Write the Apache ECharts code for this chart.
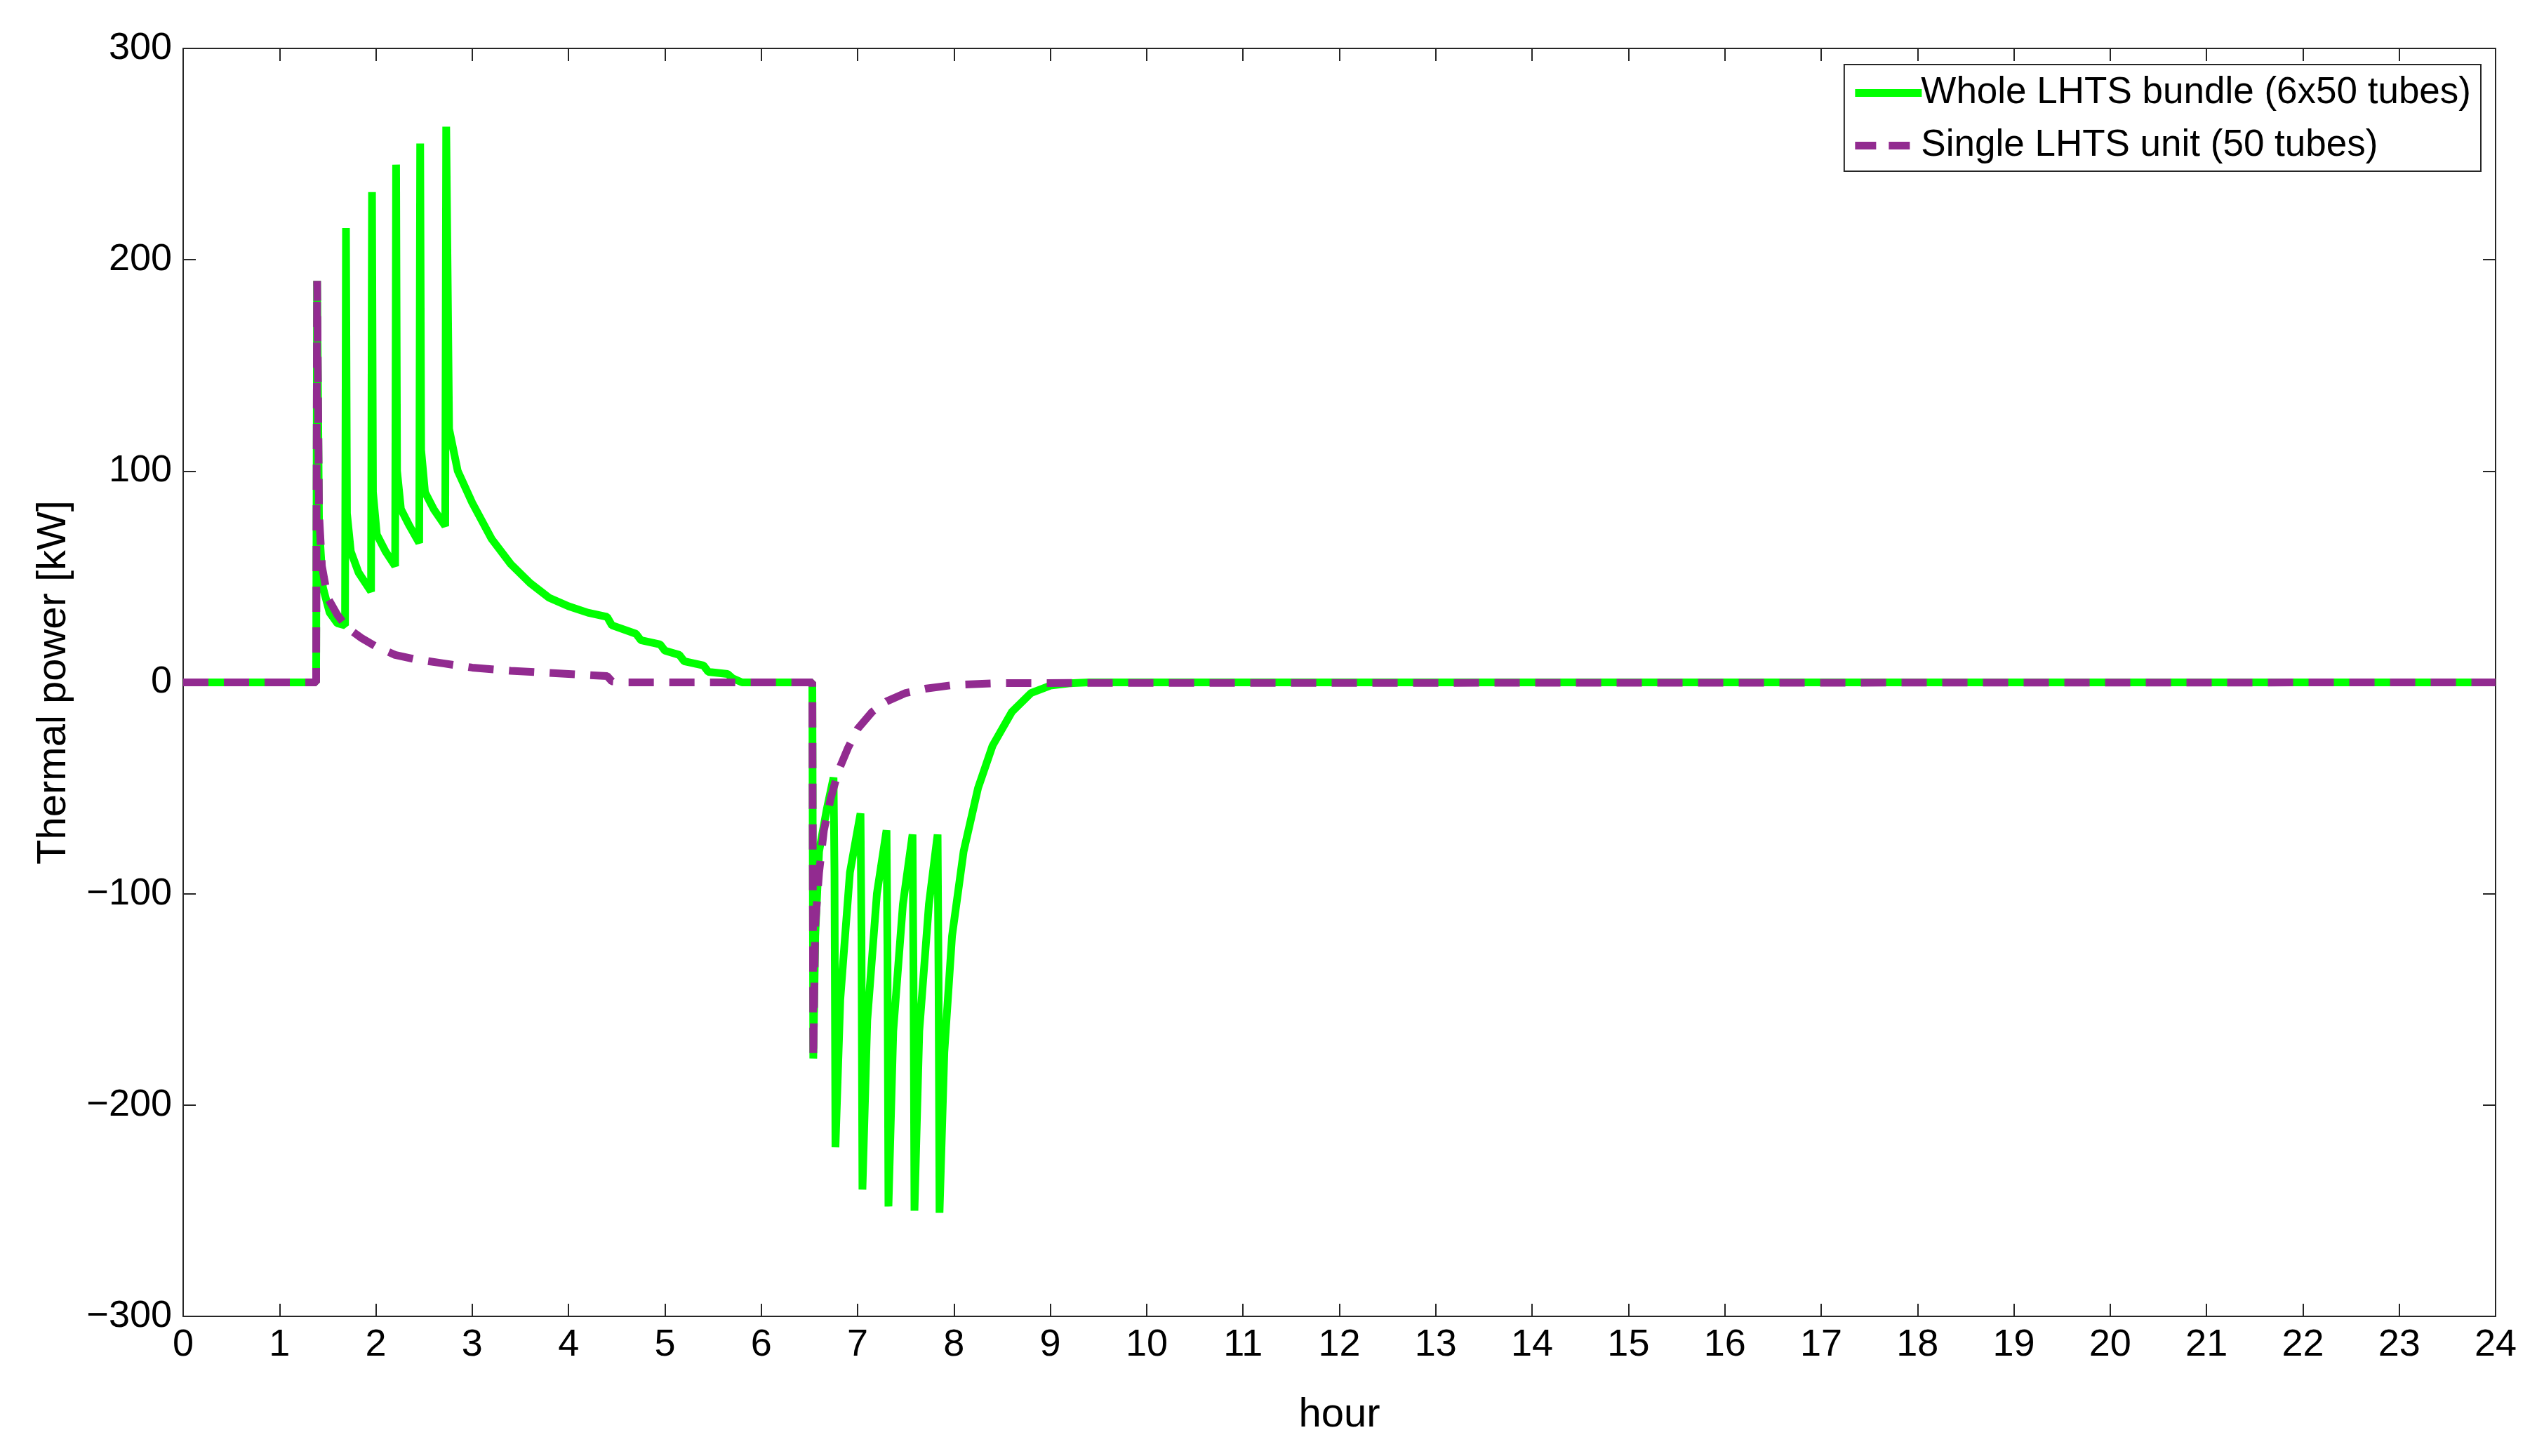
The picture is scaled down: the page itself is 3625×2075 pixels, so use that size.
<!DOCTYPE html>
<html>
<head>
<meta charset="utf-8">
<script src="https://cdn.jsdelivr.net/npm/echarts@6/dist/echarts.min.js"></script>
<style>html,body{margin:0;background:#fff}#chart{width:3625px;height:2075px}</style>
</head>
<body>
<div id="chart"></div>
<script>
// Whole LHTS bundle (6x50 tubes)
const bundleHours = [0, 1.38, 1.39, 1.41, 1.45, 1.52, 1.6, 1.68, 1.69, 1.7, 1.74, 1.82, 1.95, 1.96, 1.97, 2.01, 2.1, 2.2, 2.21, 2.22, 2.26, 2.35, 2.45, 2.46, 2.47, 2.51, 2.6, 2.72, 2.73, 2.76, 2.85, 3.0, 3.2, 3.4, 3.6, 3.8, 4.0, 4.2, 4.4, 4.45, 4.7, 4.75, 4.95, 5.0, 5.15, 5.2, 5.4, 5.45, 5.65, 5.7, 5.8, 6.53, 6.54, 6.56, 6.6, 6.68, 6.75, 6.76, 6.77, 6.82, 6.92, 7.03, 7.04, 7.05, 7.1, 7.2, 7.3, 7.31, 7.32, 7.37, 7.47, 7.57, 7.58, 7.59, 7.64, 7.74, 7.83, 7.84, 7.85, 7.9, 7.98, 8.1, 8.25, 8.4, 8.6, 8.8, 9.0, 9.2, 9.4, 24];
const bundlePower = [0, 0, 190, 75, 45, 33, 28, 27, 215, 80, 62, 52, 43, 232, 90, 70, 62, 55, 245, 100, 82, 74, 66, 255, 110, 90, 82, 74, 263, 120, 100, 85, 68, 56, 47, 40, 36, 33, 31, 27, 23, 20, 18, 15, 13, 10, 8, 5, 4, 2, 0, 0, -178, -120, -80, -60, -45, -90, -220, -150, -90, -62, -120, -240, -160, -100, -70, -130, -248, -165, -105, -72, -140, -250, -165, -105, -72, -140, -251, -175, -120, -80, -50, -30, -14, -5, -1.5, -0.4, 0, 0];

// Single LHTS unit (50 tubes)
const unitHours = [0, 1.38, 1.39, 1.41, 1.44, 1.5, 1.6, 1.7, 1.85, 2.0, 2.2, 2.4, 2.7, 3.0, 3.4, 3.8, 4.2, 4.4, 4.45, 4.6, 6.53, 6.54, 6.56, 6.6, 6.65, 6.72, 6.8, 6.9, 7.0, 7.15, 7.3, 7.5, 7.7, 8.0, 8.5, 24];
const unitPower = [0, 0, 190, 80, 55, 40, 32, 26, 21, 17, 13, 11, 9, 7, 5.5, 4.5, 3.5, 3, 0.5, 0, 0, -178, -115, -90, -70, -55, -42, -31, -22, -14, -9, -5, -3, -1.2, -0.3, 0];

const xTicks = {min: 0, max: 24, interval: 1};
const yTicks = {min: -300, max: 300, interval: 100};

const pairs = (xs, ys) => xs.map((x, i) => [x, ys[i]]);

const chart = echarts.init(document.getElementById('chart'));
const font = 'Helvetica, Arial, "Liberation Sans", sans-serif';
const green = '#00ff00', purple = '#922b90';
const axisCommon = {
    axisLine: {show: true, onZero: false, lineStyle: {color: '#262626', width: 2}},
    axisTick: {show: true, inside: true, length: 18, lineStyle: {color: '#262626', width: 2}},
    splitLine: {show: false}
};
chart.setOption({
    animation: false,
    backgroundColor: '#fff',
    grid: {left: 261, right: 69, top: 69, bottom: 199},
    legend: {
        right: 90, top: 92,
        orient: 'vertical',
        backgroundColor: '#fff',
        borderColor: '#262626', borderWidth: 2,
        padding: [14, 14, 10, 10],
        itemWidth: 95, itemHeight: 20, itemGap: 22,
        itemStyle: {opacity: 0},
        lineStyle: {width: 11},
        textStyle: {fontSize: 53, fontFamily: font, color: '#000', padding: [0, 0, 0, -6]},
        data: [
            {name: 'Whole LHTS bundle (6x50 tubes)', lineStyle: {color: green, type: 'solid'}},
            {name: 'Single LHTS unit (50 tubes)', lineStyle: {color: purple, type: [30, 18]}}
        ]
    },
    xAxis: [
        Object.assign({
            type: 'value', ...xTicks, position: 'bottom',
            name: 'hour', nameLocation: 'middle', nameGap: 112,
            nameTextStyle: {fontSize: 58, fontFamily: font, color: '#000'},
            axisLabel: {fontSize: 54, fontFamily: font, color: '#000', margin: 14}
        }, axisCommon),
        Object.assign({type: 'value', ...xTicks, position: 'top', axisLabel: {show: false}}, axisCommon)
    ],
    yAxis: [
        Object.assign({
            type: 'value', ...yTicks, position: 'left',
            name: 'Thermal power [kW]', nameLocation: 'middle', nameGap: 155,
            nameTextStyle: {fontSize: 58, fontFamily: font, color: '#000'},
            axisLabel: {fontSize: 54, fontFamily: font, color: '#000', margin: 16,
                formatter: v => v < 0 ? '\u2212' + Math.abs(v) : String(v)}
        }, axisCommon),
        Object.assign({type: 'value', ...yTicks, position: 'right', axisLabel: {show: false}}, axisCommon)
    ],
    series: [
        {
            name: 'Whole LHTS bundle (6x50 tubes)', type: 'line', symbol: 'none',
            data: pairs(bundleHours, bundlePower),
            lineStyle: {color: green, width: 11}, itemStyle: {color: green}
        },
        {
            name: 'Single LHTS unit (50 tubes)', type: 'line', symbol: 'none',
            data: pairs(unitHours, unitPower),
            lineStyle: {color: purple, width: 11, type: [36, 22]}, itemStyle: {color: purple}
        }
    ]
});
</script>
</body>
</html>
